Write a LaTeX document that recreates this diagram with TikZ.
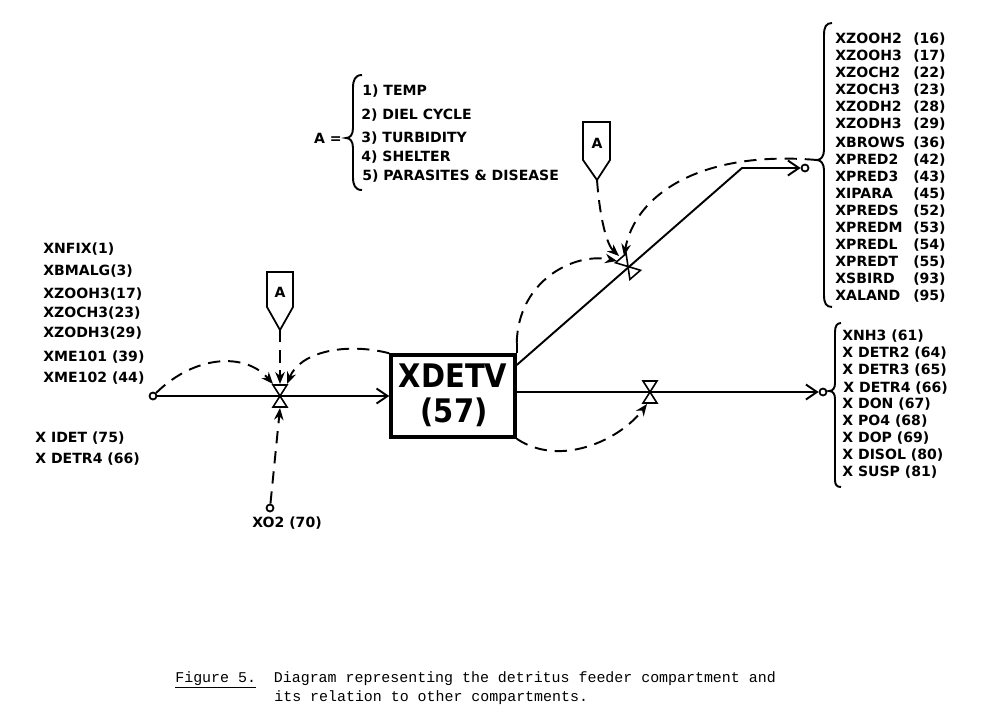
\documentclass[tikz,border=0pt]{standalone}
\usepackage{fontspec}
\usepackage{graphicx}
\usetikzlibrary{arrows.meta}
\newfontfamily\dejavu{DejaVu Sans}
\newfontfamily\capmono{Liberation Mono}
\newcommand\labf{\dejavu\bfseries\fontsize{8}{10}\selectfont}
\newcommand\bigf{\dejavu\bfseries\fontsize{16.5}{20}\selectfont}
\newcommand\capf{\capmono\fontsize{8.5}{10}\selectfont\frenchspacing}
\begin{document}
\begin{tikzpicture}[x=0.02cm,y=-0.02cm,
  flow/.style={line width=1.1pt,-{Straight Barb[length=2.2mm,width=3mm,line width=1.1pt]}},
  info/.style={line width=1.1pt,dash pattern=on 7pt off 4.5pt,-{Stealth[length=2.4mm,width=1.9mm]}},
  port/.style={circle,draw,line width=1pt,minimum size=0.14cm,inner sep=0pt},
  lab/.style={font=\labf,anchor=west,inner sep=0pt,text height=5.84pt,text depth=0pt},
  numlab/.style={lab,anchor=east},
  boxnode/.style={draw,line width=2pt,minimum width=2.48cm,minimum height=1.64cm,inner sep=0pt},
  bigtext/.style={font=\bigf,inner sep=0pt,text height=12pt,text depth=0pt},
  pennant/.style={draw,line width=1pt,line join=miter},
  bracestyle/.style={line width=1.1pt},
  captext/.style={font=\capf,anchor=west,inner sep=0pt},
  valvesym/.pic={\draw[line width=0.9pt,line join=miter] (-7,-11)--(7,-11)--(-7,11)--(7,11)--cycle;}
]
\useasboundingbox (0,0) rectangle (1000,724);
\fill[white] (0,0) rectangle (1000,724);

% ---------- compartment box ----------
\node[boxnode] (xdetv) at (453,396) {};
\node[bigtext] (xdetvname) at (453,377) {\scalebox{1}[1.12]{XDETV}};
\node[bigtext] (xdetvnum) at (454,412) {\scalebox{1}[1.12]{(57)}};

% ---------- ports ----------
\node[port] (src1) at (153,396) {};
\node[port] (xo2) at (270,508) {};
\node[port] (sink1) at (805,168) {};
\node[port] (sink2) at (823,392) {};

\coordinate (v1) at (280,396);
\coordinate (v2) at (628,266.5);
\coordinate (v3) at (650,392);
\coordinate (kink) at (742,168);
\coordinate (out1) at (xdetv.east |- 0,365);
\coordinate (out2) at (xdetv.east |- 0,392);
\coordinate (boxtr) at (xdetv.east |- 0,343);
\coordinate (brcusp) at (817,160);

\coordinate (v1tl) at (273,384);
\coordinate (v1tr) at (287,384);
\coordinate (v1t) at (280,384);
\coordinate (v1b) at (280,408);
\coordinate (v2l) at (617,261);
\coordinate (v2t) at (619,256);
\coordinate (v2r) at (624,256);
\coordinate (v3b) at (647,404);

% ---------- pennants ----------
\draw[pennant] (267,272)--(293,272)--(293,307)--(280,330)--(267,307)--cycle;
\node[lab,anchor=center] (a1) at (280,292) {A};
\coordinate (a1tip) at (280,330);
\draw[pennant] (583,122)--(610,122)--(610,160)--(597,180)--(583,160)--cycle;
\node[lab,anchor=center] (a2) at (597,143) {A};
\coordinate (a2tip) at (597,180);

% ---------- material flows ----------
\draw[flow] (src1) -- (xdetv.west);
\draw[flow] (out1) -- (kink) -- (sink1);
\draw[flow] (out2) -- (sink2);

% ---------- valves ----------
\pic at (v1) {valvesym};
\pic[rotate=40.8] at (v2) {valvesym};
\pic at (v3) {valvesym};

% ---------- information flows ----------
\draw[info] (src1.north east) .. controls (195,355) and (245,352) .. (v1tl);
\draw[info] (xdetv.north west) .. controls (345,342) and (300,352) .. (v1tr);
\draw[info] (a1tip) -- (v1t);
\draw[info] (xo2) -- (v1b);
\draw[line width=1.1pt] (xdetv.north east) -- (boxtr);
\draw[info] (boxtr) .. controls (518,280) and (575,252) .. (v2l);
\draw[info] (a2tip) .. controls (600,220) and (607,245) .. (v2t);
\draw[info] (brcusp) .. controls (700,150) and (635,195) .. (v2r);
\draw[info] (xdetv.south east) .. controls (560,468) and (620,440) .. (v3b);

% ---------- legend ----------
\node[numlab] (aeq) at (342,138) {A =};
\draw[bracestyle] (362,75) .. controls (355,75) and (353,80) .. (353,88) -- (353,128)
  .. controls (353,135) and (350,138) .. (346,138)
  .. controls (350,138) and (353,141) .. (353,148) -- (353,177)
  .. controls (353,185) and (355,190) .. (362,190);
\node[lab] (l1) at (362,90) {1) TEMP};
\node[lab] (l2) at (361,114) {2) DIEL CYCLE};
\node[lab] (l3) at (361,137) {3) TURBIDITY};
\node[lab] (l4) at (361,156) {4) SHELTER};
\node[lab] (l5) at (362,175) {5) PARASITES \& DISEASE};

% ---------- left labels ----------
\node[lab] (in1) at (43,248) {XNFIX(1)};
\node[lab] (in2) at (43,270) {XBMALG(3)};
\node[lab] (in3) at (43,293) {XZOOH3(17)};
\node[lab] (in4) at (43,312) {XZOCH3(23)};
\node[lab] (in5) at (43,332) {XZODH3(29)};
\node[lab] (in6) at (43,356) {XME101 (39)};
\node[lab] (in7) at (43,377) {XME102 (44)};
\node[lab] (in8) at (35,437) {X IDET (75)};
\node[lab] (in9) at (35,458) {X DETR4 (66)};
\node[lab] (xo2lab) at (252,522) {XO2 (70)};

% ---------- right upper labels ----------
\draw[bracestyle] (832,23) .. controls (826,23) and (824,27) .. (824,35) -- (824,150)
  .. controls (824,156) and (821,160) .. (817,160)
  .. controls (821,160) and (824,164) .. (824,170) -- (824,295)
  .. controls (824,303) and (826,307) .. (832,307);
\foreach \nm/\nb/\yy [count=\i] in {XZOOH2/16/38, XZOOH3/17/55, XZOCH2/22/72, XZOCH3/23/89,
  XZODH2/28/106, XZODH3/29/123, XBROWS/36/142, XPRED2/42/159, XPRED3/43/176,
  XIPARA/45/193, XPREDS/52/210, XPREDM/53/227, XPREDL/54/244, XPREDT/55/261,
  XSBIRD/93/278, XALAND/95/295}{
  \node[lab] (up\i) at (835,\yy) {\nm};
  \node[numlab] (upn\i) at (946,\yy) {(\nb)};
}

% ---------- right lower labels ----------
\draw[bracestyle] (841,323) .. controls (837,323) and (835,326) .. (835,332) -- (835,383)
  .. controls (835,388) and (833,391) .. (829,391)
  .. controls (833,391) and (835,394) .. (835,399) -- (835,480)
  .. controls (835,485) and (837,487) .. (841,487);
\node[lab] (dn1) at (842,335) {XNH3 (61)};
\node[lab] (dn2) at (842,352) {X DETR2 (64)};
\node[lab] (dn3) at (842,369) {X DETR3 (65)};
\node[lab] (dn4) at (843,387) {X DETR4 (66)};
\node[lab] (dn5) at (842,403) {X DON (67)};
\node[lab] (dn6) at (842,420) {X PO4 (68)};
\node[lab] (dn7) at (842,437) {X DOP (69)};
\node[lab] (dn8) at (842,454) {X DISOL (80)};
\node[lab] (dn9) at (842,471) {X SUSP (81)};

% ---------- caption ----------
\node[captext] (cap1) at (175,680) {\underline{Figure 5.}~~Diagram representing the detritus feeder compartment and};
\node[captext] (cap2) at (274,698) {its relation to other compartments.};
\end{tikzpicture}
\end{document}
